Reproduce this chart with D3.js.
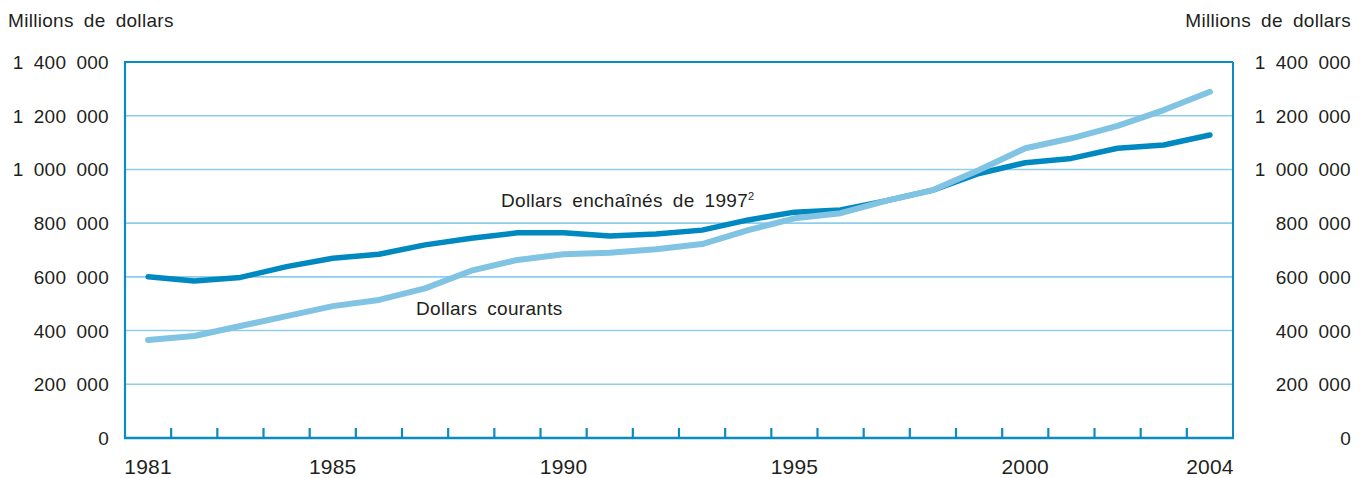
<!DOCTYPE html>
<html lang="fr">
<head>
<meta charset="utf-8">
<script src="https://cdn.jsdelivr.net/npm/d3@7"></script>
<style>
  html, body { margin: 0; padding: 0; background: #fff; }
  svg { display: block; }
  text { font-family: "Liberation Sans", Arial, sans-serif; fill: #231f20; }
</style>
</head>
<body>
<svg id="chart" width="1366" height="478"></svg>
<script>
// Années couvertes
const years = d3.range(1981, 2005);
// Dépenses en millions de dollars, dollars enchaînés de 1997
const chained1997 = [600000, 585000, 598000, 638000, 669000, 684000, 719000, 744000, 764000, 764000,
  752000, 760000, 774000, 812000, 841000, 849000, 884000, 923000, 985000, 1025000,
  1041000, 1079000, 1091000, 1128000];
// Dépenses en millions de dollars courants
const currentDollars = [365000, 380000, 417000, 454000, 491000, 514000, 557000, 623000, 663000, 684000,
  690000, 703000, 722000, 774000, 818000, 837000, 884000, 923000, 998000, 1079000,
  1116000, 1162000, 1221000, 1289000];
// Graduations de l'axe vertical
const yTicks = [0, 200000, 400000, 600000, 800000, 1000000, 1200000, 1400000];
// Années étiquetées sous l'axe horizontal
const yearLabels = [1981, 1985, 1990, 1995, 2000, 2004];

const svg = d3.select("#chart");
const plot = { left: 125, right: 1233, top: 62, bottom: 438 };

const x = d3.scaleBand().domain(years).range([plot.left, plot.right]);
const y = d3.scaleLinear().domain([0, 1400000]).range([plot.bottom, plot.top]);
const cx = d => x(d) + x.bandwidth() / 2;

const fmt = v => d3.format(",")(v).replace(/,/g, " ");

const axisBlue = "#0a8bc4";
const gridBlue = "#8fcde8";
const darkLine = "#0088c0";
const lightLine = "#80c3e3";

// Lignes de quadrillage
svg.append("g")
  .selectAll("line")
  .data(yTicks.filter(t => t > 0 && t < 1400000))
  .join("line")
  .attr("x1", plot.left).attr("x2", plot.right)
  .attr("y1", d => y(d)).attr("y2", d => y(d))
  .attr("stroke", gridBlue).attr("stroke-width", 1.6);

// Cadre
svg.append("line").attr("x1", plot.left).attr("x2", plot.right)
  .attr("y1", plot.top).attr("y2", plot.top)
  .attr("stroke", axisBlue).attr("stroke-width", 2);
svg.append("line").attr("x1", plot.right).attr("x2", plot.right)
  .attr("y1", plot.top).attr("y2", plot.bottom)
  .attr("stroke", axisBlue).attr("stroke-width", 2);
svg.append("line").attr("x1", plot.left).attr("x2", plot.left)
  .attr("y1", plot.top - 1).attr("y2", plot.bottom + 1)
  .attr("stroke", axisBlue).attr("stroke-width", 2.2);
svg.append("line").attr("x1", plot.left - 1).attr("x2", plot.right + 1)
  .attr("y1", plot.bottom).attr("y2", plot.bottom)
  .attr("stroke", axisBlue).attr("stroke-width", 2.6);

// Traits de graduation entre les années
svg.append("g")
  .selectAll("line")
  .data(years.slice(1))
  .join("line")
  .attr("x1", d => x(d)).attr("x2", d => x(d))
  .attr("y1", plot.bottom).attr("y2", plot.bottom - 10)
  .attr("stroke", axisBlue).attr("stroke-width", 2.2);

// Style commun des textes
const textStyle = sel => sel
  .attr("font-size", 19)
  .attr("letter-spacing", 0.3)
  .attr("word-spacing", 4.5);

// Étiquettes de l'axe vertical (gauche et droite)
svg.append("g").selectAll("text")
  .data(yTicks).join("text")
  .call(textStyle)
  .attr("text-anchor", "end")
  .attr("x", 109).attr("y", d => y(d) + 7)
  .text(fmt);

svg.append("g").selectAll("text")
  .data(yTicks).join("text")
  .call(textStyle)
  .attr("text-anchor", "end")
  .attr("x", 1351).attr("y", d => y(d) + 7)
  .text(fmt);

// Titres des axes
svg.append("text").call(textStyle)
  .attr("x", 8).attr("y", 27).text("Millions de dollars");
svg.append("text").call(textStyle)
  .attr("text-anchor", "end")
  .attr("x", 1351).attr("y", 27).text("Millions de dollars");

// Années
svg.append("g").selectAll("text")
  .data(yearLabels).join("text")
  .attr("font-size", 21)
  .attr("letter-spacing", 0.2)
  .attr("text-anchor", "middle")
  .attr("x", d => cx(d)).attr("y", 474)
  .text(d => d);

// Courbes
const line = d3.line()
  .x((d, i) => cx(years[i]))
  .y(d => y(d));

svg.append("path")
  .datum(chained1997)
  .attr("d", line)
  .attr("fill", "none")
  .attr("stroke", darkLine)
  .attr("stroke-width", 5.5)
  .attr("stroke-linecap", "round")
  .attr("stroke-linejoin", "round");

svg.append("path")
  .datum(currentDollars)
  .attr("d", line)
  .attr("fill", "none")
  .attr("stroke", lightLine)
  .attr("stroke-width", 6)
  .attr("stroke-linecap", "round")
  .attr("stroke-linejoin", "round");

// Libellés des séries
const chainedLabel = svg.append("text")
  .call(textStyle)
  .attr("x", 501).attr("y", 207);
chainedLabel.append("tspan").text("Dollars enchaînés de 1997");
chainedLabel.append("tspan").attr("font-size", 11).attr("dy", -7).attr("letter-spacing", 0).text("2");

svg.append("text")
  .call(textStyle)
  .attr("x", 416).attr("y", 315)
  .text("Dollars courants");
</script>
</body>
</html>
